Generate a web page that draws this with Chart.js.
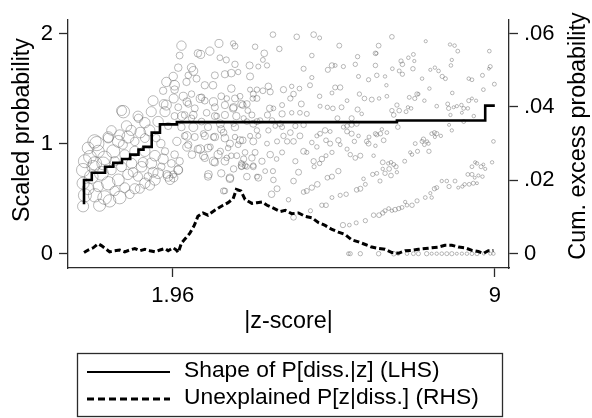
<!DOCTYPE html>
<html>
<head>
<meta charset="utf-8">
<title>Scaled probability by |z-score|</title>
<script src="https://cdn.jsdelivr.net/npm/chart.js@4.4.1/dist/chart.umd.min.js"></script>
<style>
    html, body { margin: 0; padding: 0; background: #ffffff; }
    #wrap { width: 592px; height: 418px; }
</style>
</head>
<body>
<div id="wrap"><canvas id="zChart" width="592" height="418"></canvas></div>
<script>
// Axis ticks
const xTicks = [1.96, 9];
const leftTicks = [0, 1, 2];
const rightTicks = [0, 0.02, 0.04, 0.06];

// Shape of P[diss.|z] (LHS) - step function, each point starts a new level
const stepX = [0.02, 0.02, 0.19, 0.48, 0.66, 0.85, 1.03, 1.21, 1.32, 1.50, 1.68, 2.05, 6.86, 8.79, 9.00];
const stepY = [0.45, 0.67, 0.735, 0.79, 0.825, 0.86, 0.90, 0.945, 0.97, 1.10, 1.175, 1.195, 1.21, 1.345, 1.345];

// Unexplained P[z|diss.] (RHS)
const excessX = [0.02, 0.11, 0.22, 0.33, 0.40, 0.51, 0.58, 0.69, 0.80, 0.91, 1.02, 1.13, 1.24, 1.35, 1.46, 1.57,
    1.68, 1.79, 1.86, 1.97, 2.04, 2.08, 2.15, 2.24, 2.33, 2.43, 2.51, 2.62, 2.73, 2.84, 2.95, 3.06, 3.17, 3.28,
    3.35, 3.45, 3.54, 3.69, 3.80, 3.91, 4.02, 4.16, 4.31, 4.42, 4.56, 4.71, 4.85, 5.00, 5.14, 5.29, 5.44, 5.58,
    5.73, 5.87, 6.02, 6.17, 6.31, 6.46, 6.60, 6.75, 6.89, 7.04, 7.19, 7.33, 7.48, 7.62, 7.77, 7.91, 8.06, 8.21,
    8.35, 8.50, 8.64, 8.75, 8.86, 8.97];
const excessY = [0.0003, 0.0010, 0.0016, 0.0027, 0.0022, 0.0012, 0.0005, 0.0008, 0.0010, 0.0005, 0.0010, 0.0014,
    0.0008, 0.0012, 0.0008, 0.0005, 0.0010, 0.0014, 0.0008, 0.0016, 0.0010, 0.0003, 0.0029, 0.0042, 0.0055, 0.0077,
    0.0102, 0.0111, 0.0105, 0.0115, 0.0124, 0.0132, 0.0139, 0.0150, 0.0175, 0.0171, 0.0148, 0.0137, 0.0139, 0.0141,
    0.0132, 0.0124, 0.0115, 0.0118, 0.0109, 0.0111, 0.0102, 0.0098, 0.0085, 0.0077, 0.0066, 0.0059, 0.0052, 0.0038,
    0.0032, 0.0025, 0.0018, 0.0014, 0.0012, 0.0003, 0.0001, 0.0008, 0.0009, 0.0012, 0.0014, 0.0016, 0.0018, 0.0023,
    0.0023, 0.0018, 0.0016, 0.0009, 0.0006, 0.0001, 0.0008, 0.0009];

const cloudLeft = [
    [0.55,1.05],[0.11,0.96],[0.33,0.93],[0.77,1.02],[0.98,1.06],[1.13,1.02],[1.35,1.05],[0.04,0.84],[0.26,0.82],
    [0.47,0.87],[0.69,0.84],[0.91,0.90],[1.13,0.93],[1.35,0.93],[1.57,0.89],[1.79,0.93],[2.00,0.90],[0.00,0.76],
    [0.18,0.70],[0.40,0.73],[0.62,0.76],[0.84,0.79],[1.06,0.82],[1.28,0.79],[1.49,0.82],[1.71,0.79],[1.93,0.82],
    [2.08,0.76],[1.86,0.70],[1.64,0.73],[1.42,0.70],[1.20,0.70],[0.98,0.72],[0.77,0.67],[0.55,0.64],[0.33,0.61],
    [0.11,0.59],[0.04,0.53],[0.26,0.53],[0.47,0.51],[0.69,0.57],[0.91,0.60],[1.13,0.59],[1.35,0.64],[1.57,0.67],
    [0.00,0.43],[0.00,0.64],[0.22,0.79],[0.44,0.82],[0.66,0.93],[0.87,0.99],[1.09,0.74],[1.31,0.83],[1.53,0.74],
    [1.75,0.86],[1.97,0.72],[2.11,0.84],[0.36,0.44],[0.58,0.48],[0.80,0.51],[1.02,0.54],[1.24,0.59],[1.46,0.62],
    [1.90,0.67],[2.15,1.89],[2.11,1.80],[2.08,1.69],[1.97,1.61],[1.82,1.56],[2.00,1.53],[1.75,1.48],[2.00,1.49],
    [2.19,1.43],[1.53,1.39],[1.82,1.35],[2.08,1.33],[0.84,1.30],[1.20,1.25],[1.49,1.29],[1.79,1.29],[2.00,1.25],
    [0.55,1.06],[0.95,1.16],[1.35,1.19],[1.64,1.20],[1.86,1.16],[2.15,1.15],[1.76,1.36],[1.98,1.41],[0.88,1.29],
    [1.21,1.23],[1.83,0.72],[1.98,0.69],[2.08,0.76],[0.30,1.00],[0.62,1.12],[0.80,1.08],[1.05,1.12],[1.25,1.10],
    [1.45,1.12],[1.60,1.05],[1.70,1.00],[0.15,0.88],[0.25,1.02]
];
const cloudMid = [
    [2.97,1.91],[3.28,1.91],[3.32,1.885],[2.51,1.82],[2.57,1.81],[2.77,1.84],[2.99,1.78],[3.13,1.76],[3.32,1.72],
    [2.37,1.69],[2.41,1.66],[2.30,1.62],[2.48,1.59],[2.88,1.62],[3.10,1.63],[3.24,1.64],[3.39,1.65],[2.26,1.56],
    [2.66,1.53],[2.84,1.53],[3.24,1.50],[2.37,1.45],[2.59,1.42],[3.02,1.43],[3.32,1.41],[3.46,1.36],[2.30,1.36],
    [2.66,1.39],[2.88,1.33],[3.10,1.35],[3.28,1.32],[2.22,1.26],[2.44,1.32],[2.88,1.25],[3.10,1.26],[3.35,1.25],
    [2.37,1.23],[2.59,1.20],[2.73,1.15],[3.02,1.13],[3.32,1.15],[2.22,1.07],[2.44,1.06],[2.66,1.07],[2.88,1.06],
    [3.10,1.05],[3.32,1.06],[2.30,0.99],[2.51,0.95],[2.73,0.96],[2.95,0.90],[3.17,0.96],[3.39,0.99],[2.66,0.87],
    [2.88,0.83],[3.10,0.84],[3.24,0.89],[3.46,0.82],[2.73,0.70],[3.02,0.73],[3.21,0.68],[3.10,0.57],[3.46,0.79],
    [2.27,1.38],[2.56,1.41],[2.85,1.38],[3.14,1.41],[3.43,1.43],[3.72,1.45],[3.58,1.36],[3.29,1.33],[2.92,1.25],
    [2.70,1.28],[2.41,1.26],[2.16,1.25],[3.00,1.18],[3.29,1.18],[3.58,1.20],[3.80,1.20],[2.27,1.07],[2.41,1.15],
    [2.63,1.09],[2.85,1.06],[3.07,1.10],[3.21,1.00],[3.43,1.03],[3.65,1.07],[3.80,1.12],[2.05,1.02],[2.27,0.97],
    [2.56,0.95],[2.78,0.97],[3.00,0.93],[2.38,0.90],[2.63,0.89],[2.85,0.84],[3.14,0.87],[3.36,0.89],[3.51,0.86],
    [3.69,0.87],[3.47,0.80],[3.58,0.79],[3.72,0.80],[3.29,0.77],[2.74,0.72],[3.21,0.69],[3.80,0.70],[3.07,0.57]
];
const cloudRight = [
    [4.15,1.99],[4.67,1.97],[5.04,1.99],[5.17,1.96],[3.76,1.88],[4.29,1.86],[5.60,1.89],[3.96,1.82],[3.93,1.76],
    [5.00,1.80],[6.00,1.79],[6.39,1.82],[3.64,1.71],[3.83,1.70],[4.02,1.71],[4.82,1.68],[5.35,1.67],[5.44,1.71],
    [5.51,1.71],[5.69,1.70],[5.95,1.72],[6.39,1.71],[3.65,1.61],[5.00,1.60],[6.02,1.61],[6.24,1.58],[6.42,1.62],
    [4.05,1.52],[3.65,1.49],[3.80,1.49],[3.93,1.48],[4.09,1.47],[4.38,1.49],[4.56,1.52],[4.73,1.50],[4.96,1.53],
    [5.51,1.51],[5.62,1.51],[5.44,1.46],[5.17,1.43],[6.04,1.45],[6.15,1.41],[6.31,1.40],[5.77,1.39],[3.71,1.41],
    [3.80,1.41],[3.49,1.35],[4.08,1.32],[4.16,1.32],[4.35,1.35],[4.53,1.41],[4.60,1.45],[4.77,1.36],[5.18,1.34],
    [5.34,1.33],[5.46,1.32],[5.65,1.33],[6.00,1.31],[6.09,1.27],[3.60,1.30],[3.69,1.26],[4.03,1.26],[4.35,1.27],
    [4.56,1.28],[4.74,1.28],[4.89,1.27],[5.56,1.23],[5.87,1.23],[3.51,1.23],[3.87,1.21],[4.13,1.21],[4.31,1.18],
    [3.72,1.18],[4.20,1.16],[4.35,1.15],[4.64,1.16],[4.82,1.17],[5.29,1.12],[5.40,1.11],[5.69,1.15],[5.77,1.16],
    [5.87,1.17],[5.98,1.18],[3.83,1.07],[4.05,1.12],[4.38,1.07],[4.53,1.10],[4.74,1.07],[5.11,1.07],[5.00,1.01],
    [5.18,1.09],[5.77,1.11],[5.87,1.09],[6.02,1.07],[6.25,1.06],[6.42,1.08],[3.49,1.03],[3.72,1.02],[4.02,1.00],
    [4.24,1.02],[4.46,1.02],[4.60,1.02],[4.82,0.93],[4.89,0.92],[5.11,0.97],[5.31,1.03],[5.40,1.00],[5.58,1.03],
    [5.62,0.99],[5.77,0.95],[5.93,1.02],[6.20,1.02],[6.24,1.00],[6.39,0.98],[3.54,0.92],[3.76,0.92],[3.91,0.84],
    [4.09,0.90],[4.23,0.86],[4.35,0.92],[4.64,0.84],[5.04,0.84],[5.22,0.86],[5.31,0.89],[5.44,0.92],[5.84,0.90],
    [5.95,0.87],[6.06,0.89],[6.35,0.89],[3.54,0.80],[3.72,0.79],[3.58,0.70],[3.83,0.69],[3.98,0.75],[4.15,0.75],
    [4.16,0.67],[4.60,0.66],[4.71,0.74],[5.05,0.79],[5.17,0.82],[5.34,0.69],[5.44,0.70],[5.58,0.75],[6.13,0.68],
    [6.17,0.63],[6.33,0.72],[4.24,0.59],[4.12,0.54],[4.49,0.49],[4.82,0.56],[4.89,0.57],[5.00,0.60],[5.12,0.63],
    [5.44,0.51],[5.62,0.53],[5.75,0.54],[5.98,0.58],[6.06,0.59],[4.97,0.39],[5.22,0.44],[5.31,0.44],[4.60,0.33],
    [5.68,0.26],[5.82,0.26],[5.97,0.28],[6.17,0.30],[6.35,0.35]
];
const cloudFar = [
    [6.75,1.97],[7.49,1.93],[8.02,1.90],[8.12,1.89],[8.19,1.84],[6.46,1.89],[6.41,1.82],[7.11,1.78],[7.22,1.81],
    [6.95,1.75],[6.98,1.72],[7.24,1.75],[8.06,1.76],[8.04,1.71],[8.88,1.84],[8.90,1.70],[8.87,1.68],[6.76,1.68],
    [6.91,1.66],[6.98,1.63],[7.21,1.68],[7.59,1.67],[7.69,1.69],[7.77,1.66],[7.92,1.59],[7.85,1.61],[6.60,1.61],
    [7.41,1.59],[8.43,1.59],[8.50,1.58],[8.73,1.62],[6.63,1.53],[7.57,1.50],[8.07,1.46],[8.75,1.49],[8.99,1.54],
    [6.47,1.41],[6.64,1.43],[7.13,1.42],[7.25,1.41],[7.30,1.45],[7.33,1.45],[7.46,1.39],[7.73,1.34],[7.97,1.36],
    [7.99,1.32],[8.10,1.33],[8.17,1.34],[8.27,1.35],[8.32,1.32],[8.43,1.39],[8.50,1.41],[8.59,1.39],[8.41,1.32],
    [6.86,1.35],[6.91,1.30],[7.10,1.33],[7.17,1.32],[7.06,1.29],[6.75,1.30],[6.79,1.26],[8.28,1.28],[8.03,1.26],
    [8.54,1.25],[8.32,1.20],[6.88,1.15],[6.53,1.13],[6.64,1.10],[6.39,1.09],[6.50,1.09],[6.57,1.03],[8.00,1.17],
    [8.06,1.12],[7.62,1.09],[7.68,1.10],[7.73,1.09],[7.69,1.06],[7.82,1.07],[7.26,1.00],[7.41,1.02],[7.44,1.04],
    [7.52,1.02],[7.55,1.00],[7.46,0.99],[7.31,0.93],[7.56,0.93],[7.15,0.92],[7.19,0.90],[7.03,0.84],[8.97,1.02],
    [6.55,0.83],[6.67,0.82],[6.73,0.83],[6.79,0.81],[6.84,0.79],[6.69,0.77],[6.55,0.77],[6.42,0.73],[6.49,0.66],
    [6.60,0.73],[6.73,0.71],[6.86,0.74],[8.57,0.83],[8.61,0.82],[8.50,0.79],[8.70,0.79],[8.75,0.81],[8.79,0.77],
    [8.94,0.83],[8.41,0.72],[8.50,0.72],[8.56,0.69],[8.64,0.71],[8.73,0.70],[8.44,0.63],[8.53,0.64],[8.61,0.64],
    [7.84,0.66],[7.95,0.66],[8.13,0.66],[8.00,0.61],[8.20,0.60],[8.29,0.61],[8.34,0.63],[7.73,0.60],[7.68,0.59],
    [7.59,0.55],[7.62,0.51],[7.48,0.51],[7.30,0.48],[7.19,0.44],[7.04,0.47],[7.08,0.44],[6.97,0.42],[6.90,0.41],
    [6.82,0.40],[6.75,0.39],[6.68,0.41],[6.60,0.39],[6.55,0.37],[6.47,0.35]
];
const cloudZero = [
    [5.80,0],[5.84,0],[6.06,0],[6.46,0],[6.79,0],[6.89,0],[7.08,0],[7.22,0],[7.33,0],[7.51,0],[7.62,0],[7.73,0],
    [7.84,0],[7.95,0],[8.06,0],[8.17,0],[8.28,0],[8.39,0],[8.50,0],[8.61,0],[8.76,0],[8.90,0],[8.97,0]
];

const FONT_FAMILY = '"Liberation Sans", Arial, Helvetica, sans-serif';
const INK = '#000000';
const AXIS = '#2b2b2b';

const toPoints = (xs, ys) => xs.map((x, i) => ({ x: x, y: ys[i] }));
const scatterPoints = [].concat(cloudLeft, cloudMid, cloudRight, cloudFar, cloudZero)
    .map(p => ({ x: p[0], y: p[1] }));

// marker size shrinks with |z| like in the original graph
function markerRadius(context) {
    const x = context.raw ? context.raw.x : 0;
    const base = 1.4 + 5.2 * Math.exp(-x / 3.2);
    const wobble = ((context.dataIndex % 5) - 2) * 0.08;
    return base * (1 + wobble);
}

// axis titles and the boxed legend, drawn the Stata way
const stataDecor = {
    id: 'stataDecor',
    afterDraw(chart) {
        const ctx = chart.ctx;
        const area = chart.chartArea;
        ctx.save();
        ctx.fillStyle = INK;
        ctx.font = '23.3px ' + FONT_FAMILY;
        ctx.textAlign = 'center';
        ctx.textBaseline = 'middle';

        ctx.fillText('|z-score|', (area.left + area.right) / 2, 322);

        ctx.save();
        ctx.translate(23, 130);
        ctx.rotate(-Math.PI / 2);
        ctx.fillText('Scaled probability', 0, 0);
        ctx.restore();

        ctx.save();
        ctx.translate(579, 136);
        ctx.rotate(-Math.PI / 2);
        ctx.fillText('Cum. excess probability', 0, 0);
        ctx.restore();

        // legend box
        ctx.strokeStyle = AXIS;
        ctx.lineWidth = 1.3;
        ctx.strokeRect(77.5, 353.5, 425, 63);

        ctx.strokeStyle = INK;
        ctx.lineWidth = 1.8;
        ctx.beginPath();
        ctx.moveTo(87, 372);
        ctx.lineTo(170, 372);
        ctx.stroke();

        ctx.lineWidth = 3;
        ctx.setLineDash([7, 4]);
        ctx.beginPath();
        ctx.moveTo(87, 399);
        ctx.lineTo(170, 399);
        ctx.stroke();
        ctx.setLineDash([]);

        ctx.textAlign = 'left';
        ctx.font = '22.8px ' + FONT_FAMILY;
        ctx.fillText('Shape of P[diss.|z] (LHS)', 184, 371);
        ctx.fillText('Unexplained P[z|diss.] (RHS)', 184, 398);
        ctx.restore();
    }
};

const tickFont = { family: FONT_FAMILY, size: 22 };

new Chart(document.getElementById('zChart'), {
    type: 'scatter',
    data: {
        datasets: [
            {
                type: 'line',
                label: 'Shape of P[diss.|z] (LHS)',
                data: toPoints(stepX, stepY),
                yAxisID: 'y',
                stepped: true,
                borderColor: INK,
                borderWidth: 2.6,
                pointRadius: 0,
                fill: false,
                order: 0
            },
            {
                type: 'line',
                label: 'Unexplained P[z|diss.] (RHS)',
                data: toPoints(excessX, excessY),
                yAxisID: 'y2',
                borderColor: INK,
                borderWidth: 3,
                borderDash: [6, 3],
                pointRadius: 0,
                tension: 0,
                fill: false,
                order: 1
            },
            {
                type: 'scatter',
                label: 'bins',
                data: scatterPoints,
                yAxisID: 'y',
                pointStyle: 'circle',
                pointRadius: markerRadius,
                pointBackgroundColor: 'rgba(0,0,0,0)',
                pointBorderColor: 'rgba(90,90,90,0.42)',
                pointBorderWidth: 1,
                order: 2
            }
        ]
    },
    options: {
        responsive: false,
        animation: false,
        events: [],
        layout: { padding: { top: 6, left: 0, right: 0, bottom: 0 } },
        plugins: {
            legend: { display: false },
            tooltip: { enabled: false }
        },
        scales: {
            x: {
                type: 'linear',
                min: -0.33,
                max: 9.31,
                afterBuildTicks: scale => { scale.ticks = xTicks.map(v => ({ value: v })); },
                afterFit: scale => { scale.height = 150; },
                ticks: {
                    font: tickFont,
                    color: INK,
                    padding: 6,
                    maxRotation: 0,
                    autoSkip: false,
                    callback: value => String(value)
                },
                grid: { drawOnChartArea: false, tickLength: 9, tickColor: AXIS, tickWidth: 1.3 },
                border: { color: AXIS, width: 1.3 }
            },
            y: {
                position: 'left',
                min: -0.13,
                max: 2.13,
                afterBuildTicks: scale => { scale.ticks = leftTicks.map(v => ({ value: v })); },
                afterFit: scale => { scale.width = 68; },
                ticks: { font: tickFont, color: INK, padding: 6, callback: value => String(value) },
                grid: { drawOnChartArea: false, tickLength: 9, tickColor: AXIS, tickWidth: 1.3 },
                border: { color: AXIS, width: 1.3 }
            },
            y2: {
                position: 'right',
                min: -0.0039,
                max: 0.0639,
                afterBuildTicks: scale => { scale.ticks = rightTicks.map(v => ({ value: v })); },
                afterFit: scale => { scale.width = 83; },
                ticks: {
                    font: tickFont,
                    color: INK,
                    padding: 6,
                    callback: value => value === 0 ? '0' : value.toFixed(2).replace(/^0/, '')
                },
                grid: { drawOnChartArea: false, tickLength: 9, tickColor: AXIS, tickWidth: 1.3 },
                border: { color: AXIS, width: 1.3 }
            }
        }
    },
    plugins: [stataDecor]
});
</script>
</body>
</html>
